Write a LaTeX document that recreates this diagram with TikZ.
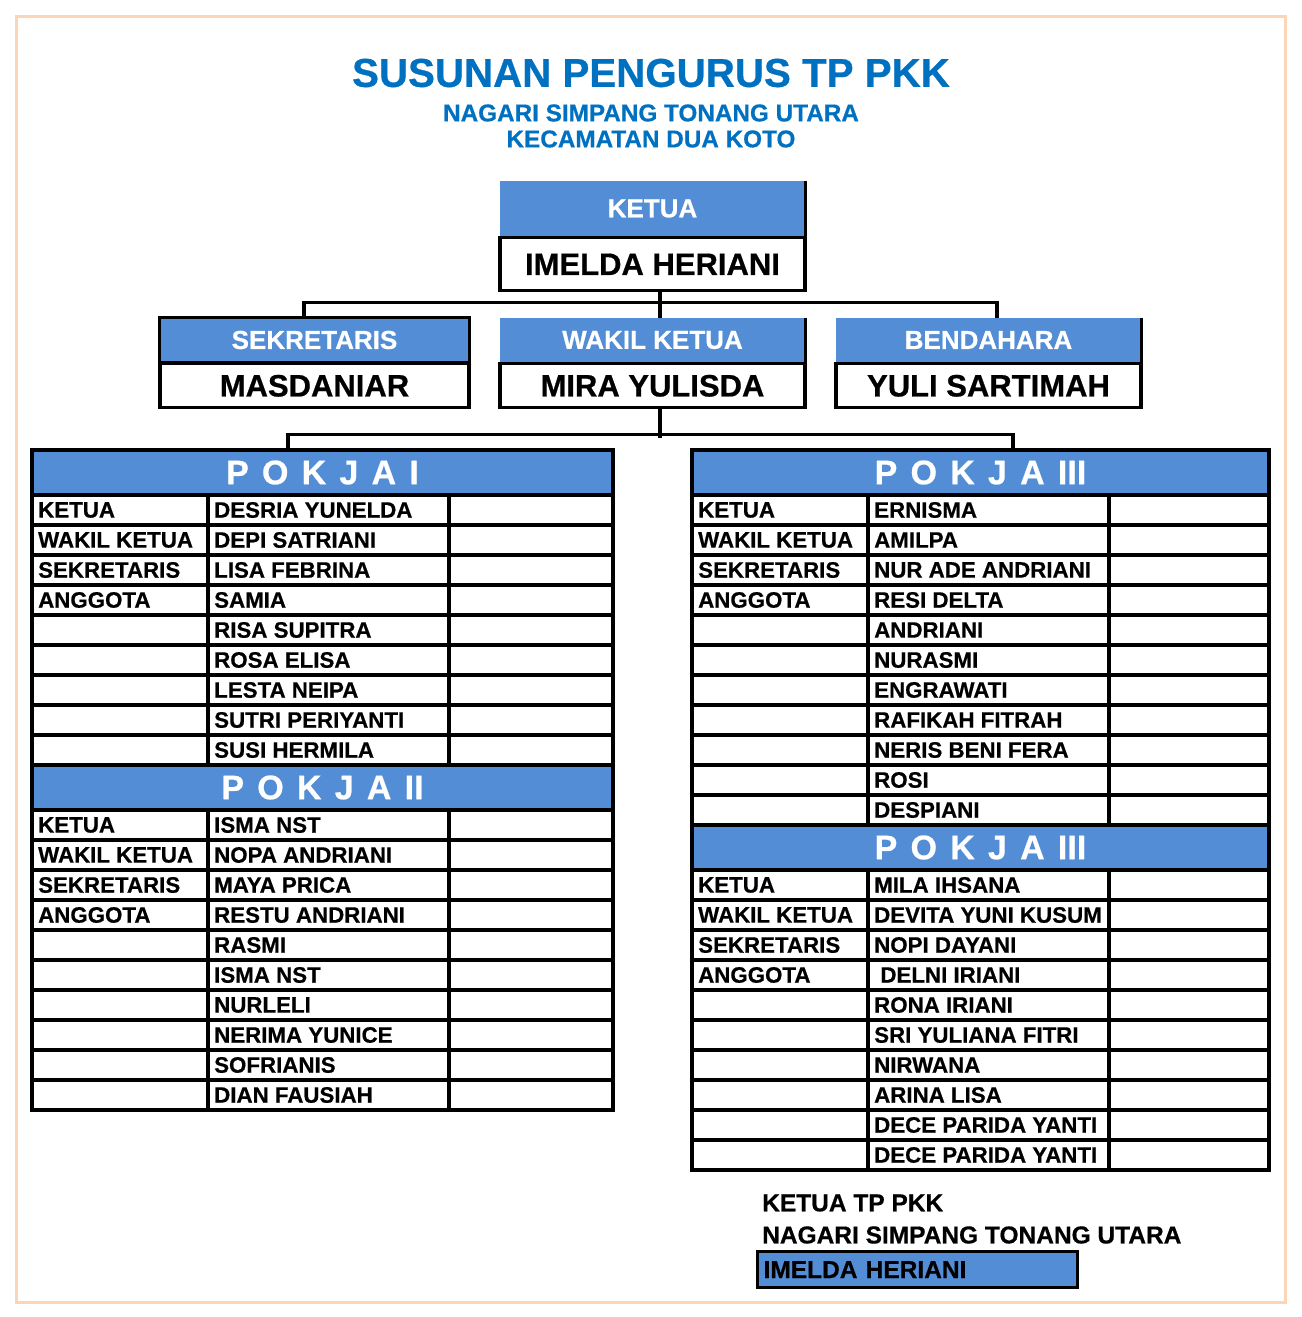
\documentclass[tikz,border=0pt]{standalone}
\usepackage{fontspec}
\setmainfont{Liberation Sans}[BoldFeatures={FakeBold=0.6}]
\newfontfamily\pokjafont[WordSpace=1.4, BoldFeatures={FakeBold=0.6}]{Liberation Sans}
\usetikzlibrary{positioning}

\definecolor{biru}{HTML}{538DD5}
\definecolor{birujudul}{HTML}{0070C0}
\definecolor{pinggir}{HTML}{FBD5B5}
\newcommand\ukuran[1]{\fontsize{#1}{#1}\selectfont\bfseries}

\tikzset{
    garis/.style={line width=3.2pt},
    labelbiru/.style={fill=biru, text=white, font=\ukuran{26}, minimum width=305, minimum height=44, inner sep=0},
    kotaknama/.style={draw, garis, fill=white, font=\ukuran{31}, minimum width=305, minimum height=44, inner sep=0},
    pokja/.style={fill=biru, text=white, font=\pokjafont\ukuran{34}, minimum height=45, inner sep=0},
    isi/.style={anchor=west, font=\ukuran{22.3}, inner sep=0},
}

\begin{document}
\begin{tikzpicture}[x=1pt, y=-1pt]
    \useasboundingbox (0,0) rectangle (1301,1317);
    \draw[line width=3pt, pinggir] (16,16) rectangle (1285,1302);

    % judul
    \node[text=birujudul, font=\ukuran{40.3}] (judul) at (651,73) {SUSUNAN PENGURUS TP PKK};
    \node[text=birujudul, font=\ukuran{24.3}] (nagari) at (651,113) {NAGARI SIMPANG TONANG UTARA};
    \node[text=birujudul, font=\ukuran{24.3}] (kec) at (651,139) {KECAMATAN DUA KOTO};

    % ketua
    \node[labelbiru, minimum height=55] (ketua) at (652.5,208.5) {KETUA};
    \node[kotaknama, below=0pt of ketua, minimum height=53] (nketua) {IMELDA HERIANI};
    \draw[garis] (ketua.north east) -- (ketua.south east);

    % baris kedua
    \node[labelbiru, minimum width=309] (sekr) at (314.5,340) {SEKRETARIS};
    \node[kotaknama, below=0pt of sekr, minimum width=309] (nsekr) {MASDANIAR};
    \draw[garis] (sekr.south west) rectangle (sekr.north east);
    \node[labelbiru] (wakil) at (652.5,340) {WAKIL KETUA};
    \node[kotaknama, below=0pt of wakil] (nwakil) {MIRA YULISDA};
    \draw[garis] (wakil.north east) -- (wakil.south east);
    \node[labelbiru] (benda) at (988.5,340) {BENDAHARA};
    \node[kotaknama, below=0pt of benda] (nbenda) {YULI SARTIMAH};
    \draw[garis] (benda.north east) -- (benda.south east);

    \draw[garis] ([xshift=7.5]nketua.south) -- ([xshift=7.5]wakil.north);
    \draw[garis] ([xshift=-10.5]sekr.north) -- ++(0,-15) -| ([xshift=8.5]benda.north);

    % pokja
    \node[pokja, minimum width=581] (pokja1) at (322.5,472.5) {P O K J A I};
    \node[pokja, minimum width=581] (pokja2) at (322.5,787.5) {P O K J A II};
    \node[pokja, minimum width=577] (pokja3) at (980.5,472.5) {P O K J A III};
    \node[pokja, minimum width=577] (pokja4) at (980.5,847.5) {P O K J A III};

    \draw[garis] ([xshift=7.5]nwakil.south) -- ++(0,29);
    \draw[garis] ([xshift=-34.5]pokja1.north) -- ++(0,-15) -| ([xshift=32.5]pokja3.north);

    % garis tabel kiri
    \draw[garis] (32,450) rectangle (613,1110);
    \foreach \y in {495,525,...,765,810,840,...,1080}
        \draw[garis] (32,\y) -- (613,\y);
    \foreach \x in {208,449} {
        \draw[garis] (\x,495) -- (\x,765);
        \draw[garis] (\x,810) -- (\x,1110);
    }
    % garis tabel kanan
    \draw[garis] (692,450) rectangle (1269,1170);
    \foreach \y in {495,525,...,825,870,900,...,1140}
        \draw[garis] (692,\y) -- (1269,\y);
    \foreach \x in {868,1109} {
        \draw[garis] (\x,495) -- (\x,825);
        \draw[garis] (\x,870) -- (\x,1170);
    }

    % isi tabel
    \foreach \jab [count=\i] in {KETUA, WAKIL KETUA, SEKRETARIS, ANGGOTA} {
        \node[isi] (ja\i) at (38,480+30*\i) {\jab};
        \node[isi] (jb\i) at (38,795+30*\i) {\jab};
        \node[isi] (jc\i) at (698,480+30*\i) {\jab};
        \node[isi] (jd\i) at (698,855+30*\i) {\jab};
    }
    \foreach \nama [count=\i] in {DESRIA YUNELDA, DEPI SATRIANI, LISA FEBRINA, SAMIA,
        RISA SUPITRA, ROSA ELISA, LESTA NEIPA, SUTRI PERIYANTI, SUSI HERMILA}
        \node[isi] (pa\i) at (214,480+30*\i) {\nama};
    \foreach \nama [count=\i] in {ISMA NST, NOPA ANDRIANI, MAYA PRICA, RESTU ANDRIANI,
        RASMI, ISMA NST, NURLELI, NERIMA YUNICE, SOFRIANIS, DIAN FAUSIAH}
        \node[isi] (pb\i) at (214,795+30*\i) {\nama};
    \foreach \nama [count=\i] in {ERNISMA, AMILPA, NUR ADE ANDRIANI, RESI DELTA, ANDRIANI,
        NURASMI, ENGRAWATI, RAFIKAH FITRAH, NERIS BENI FERA, ROSI, DESPIANI}
        \node[isi] (pc\i) at (874,480+30*\i) {\nama};
    \foreach \nama [count=\i] in {MILA IHSANA, DEVITA YUNI KUSUM, NOPI DAYANI, \ DELNI IRIANI,
        RONA IRIANI, SRI YULIANA FITRI, NIRWANA, ARINA LISA, DECE PARIDA YANTI, DECE PARIDA YANTI}
        \node[isi] (pd\i) at (874,855+30*\i) {\nama};

    % tanda tangan
    \node[isi, font=\ukuran{24.5}] (ttd1) at (762,1203) {KETUA TP PKK};
    \node[isi, font=\ukuran{24.5}] (ttd2) at (762,1235) {NAGARI SIMPANG TONANG UTARA};
    \node[draw, garis, fill=biru, anchor=north west, minimum height=36, text width=308,
        inner xsep=6, inner ysep=0, align=left, font=\ukuran{24.5}] (ttd3) at (756,1250) {IMELDA HERIANI};
\end{tikzpicture}
\end{document}
